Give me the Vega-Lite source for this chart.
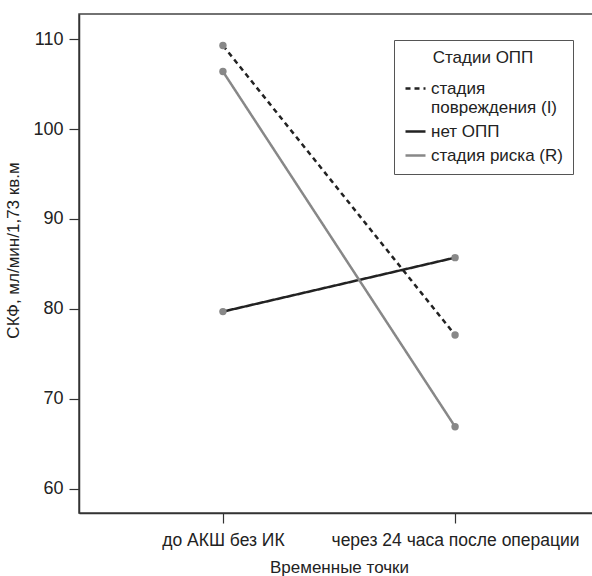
{
  "$schema": "https://vega.github.io/schema/vega-lite/v6.json",
  "autosize": {"type": "none"},
  "padding": {"left": 79, "top": 14, "right": 0, "bottom": 63},
  "width": 520,
  "height": 499,
  "background": "white",
  "config": {
    "font": "Liberation Sans",
    "view": {"stroke": "#444", "strokeWidth": 1.5},
    "axis": {"grid": false, "domainColor": "#333", "domainWidth": 1.5, "tickColor": "#333", "tickWidth": 1.2, "tickSize": 10, "labelColor": "#222", "titleColor": "#222", "labelFontSize": 17, "titleFontSize": 17, "titleFontWeight": "normal", "labelLimit": 400}
  },
  "data": {"values": [
    {"time": "до АКШ без ИК", "stage": "стадия повреждения (I)", "value": 109.3},
    {"time": "через 24 часа после операции", "stage": "стадия повреждения (I)", "value": 77.1},
    {"time": "до АКШ без ИК", "stage": "нет ОПП", "value": 79.7},
    {"time": "через 24 часа после операции", "stage": "нет ОПП", "value": 85.7},
    {"time": "до АКШ без ИК", "stage": "стадия риска (R)", "value": 106.4},
    {"time": "через 24 часа после операции", "stage": "стадия риска (R)", "value": 66.9}
  ]},
  "encoding": {
    "x": {"field": "time", "type": "nominal", "sort": null, "scale": {"type": "point", "padding": 0.62},
      "axis": {"title": "Временные точки", "labelAngle": 0, "labelPadding": 8, "titlePadding": 11, "labelFontSize": 17.5, "labelLimit": 400}},
    "y": {"field": "value", "type": "quantitative", "scale": {"domain": [57.3, 112.8], "nice": false, "zero": false},
      "axis": {"title": "СКФ, мл/мин/1,73 кв.м", "values": [60, 70, 80, 90, 100, 110], "labelFontSize": 18, "labelPadding": 6, "titlePadding": 10, "titleY": 236}}
  },
  "layer": [
    {
      "mark": {"type": "line", "strokeWidth": 2.5},
      "encoding": {
        "color": {"field": "stage", "type": "nominal", "sort": ["стадия повреждения (I)", "нет ОПП", "стадия риска (R)"],
          "scale": {"domain": ["стадия повреждения (I)", "нет ОПП", "стадия риска (R)"], "range": ["#222222", "#222222", "#888888"]},
          "legend": {"title": "Стадии ОПП", "orient": "none", "legendX": 315, "legendY": 26, "strokeColor": "#555", "padding": 10, "titleAnchor": "middle", "titleFontSize": 17, "titleFontWeight": "normal", "titleColor": "#222", "titlePadding": 10, "labelFontSize": 17, "labelColor": "#222", "symbolType": "stroke", "symbolSize": 400, "symbolStrokeWidth": 2.5, "rowPadding": 4, "labelLimit": 300,
            "labelExpr": "datum.label == 'стадия повреждения (I)' ? ['стадия', 'повреждения (I)'] : datum.label"}},
        "strokeDash": {"field": "stage", "type": "nominal",
          "scale": {"domain": ["стадия повреждения (I)", "нет ОПП", "стадия риска (R)"], "range": [[5, 4], [1, 0], [1, 0]]},
          "legend": {"title": "Стадии ОПП"}}
      }
    },
    {
      "mark": {"type": "point", "filled": true, "size": 55, "color": "#888888", "opacity": 1}
    }
  ]
}
